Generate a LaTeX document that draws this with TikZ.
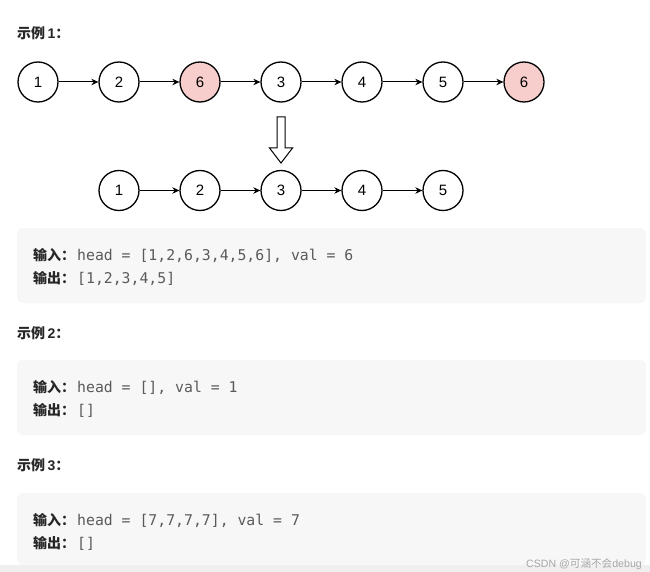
\documentclass[tikz,border=0pt]{standalone}
\usepackage{fontspec}
\setmainfont{Liberation Sans}
\newfontfamily\cjk{Noto Sans CJK SC}
\newfontfamily\mono{DejaVu Sans Mono}
\usetikzlibrary{arrows.meta}
\definecolor{pinkfill}{HTML}{F8CECC}
\definecolor{boxgray}{HTML}{F7F7F8}
\definecolor{stripgray}{HTML}{EFEFEF}
\definecolor{codegray}{HTML}{5A5A5A}
\definecolor{labelcol}{HTML}{262626}
\definecolor{wmcol}{HTML}{A6A6A6}
\begin{document}
\begin{tikzpicture}[x=1pt,y=-1pt,
  ln/.style={circle,draw=black,line width=1.3pt,minimum size=40pt,inner sep=0pt,fill=white,font=\fontsize{15}{17}\selectfont},
  hit/.style={ln,fill=pinkfill},
  link/.style={-{Stealth[length=7pt,width=6.5pt]},line width=1pt},
  ttl/.style={anchor=base west,inner sep=0pt,text=labelcol,font=\fontsize{14}{16}\selectfont\bfseries},
  codeline/.style={anchor=base west,inner sep=0pt,text=codegray,font=\fontsize{14.8}{17}\selectfont},
  codebox/.style={fill=boxgray,rounded corners=6pt},
  wm/.style={anchor=base east,inner sep=0pt,text=wmcol,font=\fontsize{10.6}{13}\selectfont}]
\useasboundingbox (0,0) rectangle (650,572);
\fill[white] (0,0) rectangle (650,572);
\fill[stripgray] (0,565) rectangle (650,572);
% code boxes
\fill[codebox] (17,228) rectangle (646,303);
\fill[codebox] (17,360) rectangle (646,435);
\fill[codebox] (17,493) rectangle (646,565);
% titles
\node[ttl] (t1) at (17,39) {{\cjk 示例}\hspace{2.5pt}1{\cjk ：}};
\node[ttl] (t2) at (17,338) {{\cjk 示例}\hspace{2.5pt}2{\cjk ：}};
\node[ttl] (t3) at (17,470) {{\cjk 示例}\hspace{2.5pt}3{\cjk ：}};
% top list
\node[ln]  (a1) at (38,82)  {1};
\node[ln]  (a2) at (119,82) {2};
\node[hit] (a3) at (200,82) {6};
\node[ln]  (a4) at (281,82) {3};
\node[ln]  (a5) at (362,82) {4};
\node[ln]  (a6) at (443,82) {5};
\node[hit] (a7) at (524,82) {6};
\foreach \i/\j in {a1/a2,a2/a3,a3/a4,a4/a5,a5/a6,a6/a7} \draw[link] (\i) -- (\j);
% big down arrow
\draw[line width=1pt,fill=white,line join=miter]
  (277,117) -- (285,117) -- (285,148) -- (292.5,148) -- (281,163) -- (269.5,148) -- (277,148) -- cycle;
% bottom list
\node[ln] (b1) at (119,190.5) {1};
\node[ln] (b2) at (200,190.5) {2};
\node[ln] (b3) at (281,190.5) {3};
\node[ln] (b4) at (362,190.5) {4};
\node[ln] (b5) at (443,190.5) {5};
\foreach \i/\j in {b1/b2,b2/b3,b3/b4,b4/b5} \draw[link] (\i) -- (\j);
% code text
\node[codeline] (c1a) at (33,260) {{\cjk\bfseries\fontsize{14}{17}\selectfont\color{labelcol}输入：}\hspace{2pt}{\mono head = [1,2,6,3,4,5,6], val = 6}};
\node[codeline] (c1b) at (33,283) {{\cjk\bfseries\fontsize{14}{17}\selectfont\color{labelcol}输出：}\hspace{2pt}{\mono [1,2,3,4,5]}};
\node[codeline] (c2a) at (33,392) {{\cjk\bfseries\fontsize{14}{17}\selectfont\color{labelcol}输入：}\hspace{2pt}{\mono head = [], val = 1}};
\node[codeline] (c2b) at (33,415) {{\cjk\bfseries\fontsize{14}{17}\selectfont\color{labelcol}输出：}\hspace{2pt}{\mono []}};
\node[codeline] (c3a) at (33,525) {{\cjk\bfseries\fontsize{14}{17}\selectfont\color{labelcol}输入：}\hspace{2pt}{\mono head = [7,7,7,7], val = 7}};
\node[codeline] (c3b) at (33,548) {{\cjk\bfseries\fontsize{14}{17}\selectfont\color{labelcol}输出：}\hspace{2pt}{\mono []}};
% watermark
\node[wm] (w) at (642,567) {CSDN @{\cjk 可涵不会}debug};
\end{tikzpicture}
\end{document}
